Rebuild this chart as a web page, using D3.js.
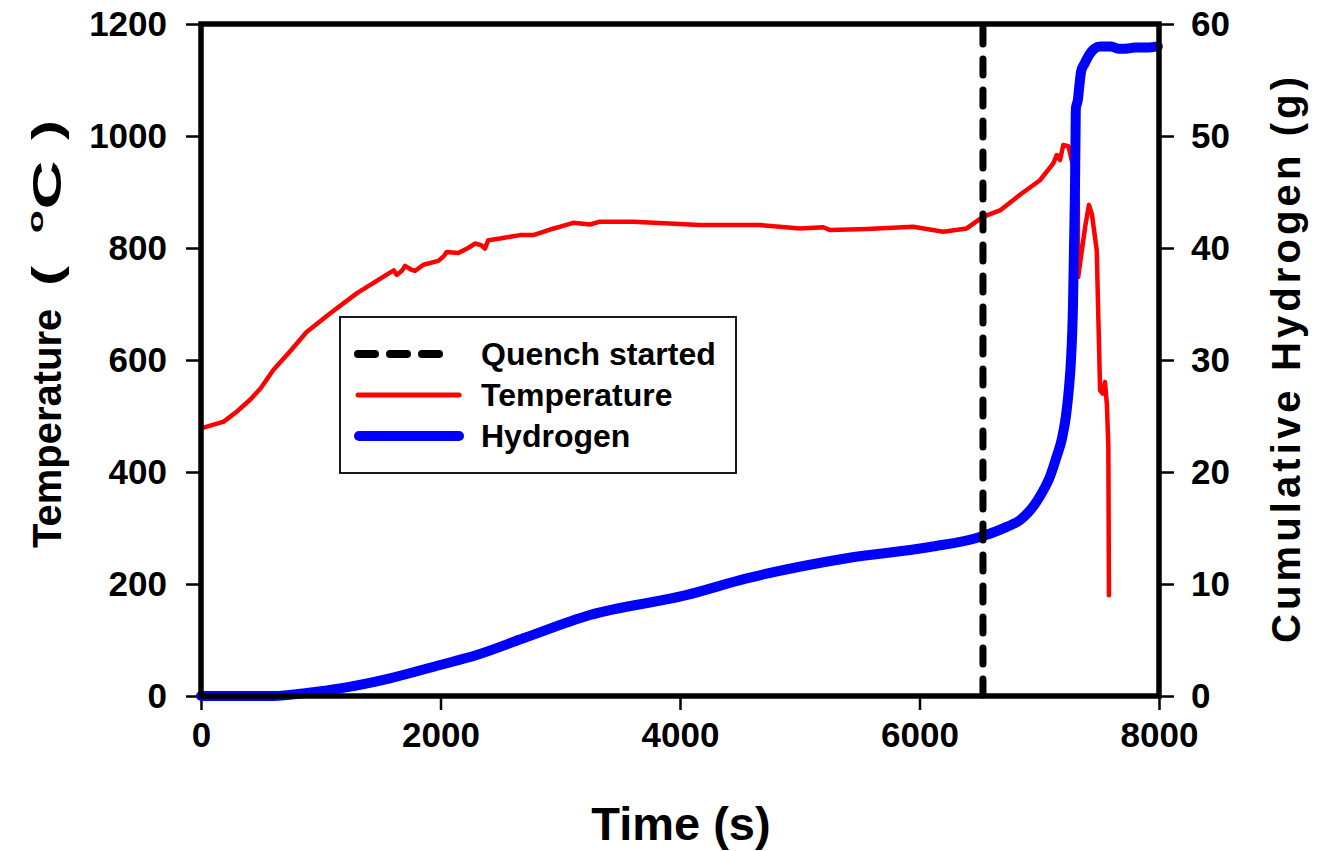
<!DOCTYPE html>
<html>
<head>
<meta charset="utf-8">
<script src="https://cdn.jsdelivr.net/npm/d3@7"></script>
<style>
  html, body { margin: 0; padding: 0; background: #fff; }
  svg { display: block; font-family: "Liberation Sans", Arial, sans-serif; font-weight: bold; }
</style>
</head>
<body>
<svg id="chart" width="1317" height="851"></svg>
<script>
// ---- data ----
const tempTime = [0,190,300,410,500,604,750,882,1077,1300,1578,1610,1634,1680,1704,1750,1787,1857,1982,2030,2052,2149,2230,2288,2340,2372,2399,2497,2664,2775,2914,3000,3109,3248,3332,3610,4167,4668,5002,5197,5253,5559,5948,6199,6394,6533,6672,6839,7006,7117,7146,7173,7201,7243,7300,7322,7325,7354,7385,7415,7440,7480,7508,7530,7549,7565,7577,7582];
const tempValue = [478,490,508,529,550,582,617,650,683,719,756,760,752,760,768,762,759,770,777,786,793,791,800,808,805,799,814,817,823,823,833,838,845,842,847,847,841,841,835,837,832,834,838,829,835,856,867,895,921,951,966,957,984,982,930,886,748,793,840,877,860,796,546,540,561,520,445,180];

const h2Time = [0,600,900,1161,1578,1996,2302,2692,3248,4050,4557,5392,6088,6505,6728,6839,7015,7090,7146,7190,7223,7248,7265,7282,7290,7298,7302,7306,7322,7335,7350,7380,7420,7460,7510,7600,7660,7720,7800,7900,7990];
const h2Value = [0,0,0.3,0.68,1.58,2.77,3.66,5.15,7.23,9.0,10.5,12.3,13.3,14.2,15.1,15.7,18.0,19.6,21.4,23.0,25.0,27.5,30.0,35.0,40.0,45.0,49.0,52.5,53.2,54.5,55.8,56.5,57.3,57.8,58.0,58.0,57.8,57.8,57.9,57.9,58.0];

const quenchTime = [6530];

const xTicks = [0,2000,4000,6000,8000];
const yLeftTicks = [0,200,400,600,800,1000,1200];
const yRightTicks = [0,10,20,30,40,50,60];

const legendLabels = ["Quench started","Temperature","Hydrogen"];

// ---- layout ----
const svg = d3.select("#chart");
const L = 201, R = 1159, T = 24, B = 696;

const x = d3.scaleLinear().domain([0,8000]).range([L,R]);
const yL = d3.scaleLinear().domain([0,1200]).range([B,T]);
const yR = d3.scaleLinear().domain([0,60]).range([B,T]);

svg.append("rect").attr("width",1317).attr("height",851).attr("fill","#fff");

// axes
const tickFont = 35;
const xAxis = d3.axisBottom(x).tickValues(xTicks).tickSize(14).tickPadding(12).tickFormat(d3.format("d"));
const gX = svg.append("g").attr("transform",`translate(0,${B})`).call(xAxis);
const yAxisL = d3.axisLeft(yL).tickValues(yLeftTicks).tickSize(15).tickPadding(19).tickFormat(d3.format("d"));
const gYL = svg.append("g").attr("transform",`translate(${L},0)`).call(yAxisL);
const yAxisR = d3.axisRight(yR).tickValues(yRightTicks).tickSize(15).tickPadding(17).tickFormat(d3.format("d"));
const gYR = svg.append("g").attr("transform",`translate(${R},0)`).call(yAxisR);

[gX,gYL,gYR].forEach(g => {
  g.select(".domain").remove();
  g.selectAll(".tick line").attr("stroke","#000").attr("stroke-width",2.5);
  g.selectAll(".tick text").attr("fill","#000")
    .style("font-size",tickFont+"px").style("font-weight","bold")
    .style("font-family",'"Liberation Sans", Arial, sans-serif');
});
gX.selectAll(".tick text").attr("dy","0.71em");

// line generators
const tempLine = d3.line().x(d => x(d[0])).y(d => yL(d[1]));
const h2Line = d3.line().curve(d3.curveMonotoneX).x(d => x(d[0])).y(d => yR(d[1]));

const tempData = tempTime.map((t,i) => [t, tempValue[i]]);
const h2Data = h2Time.map((t,i) => [t, h2Value[i]]);

svg.append("path").datum(tempData).attr("d",tempLine)
  .attr("fill","none").attr("stroke","#ff0000").attr("stroke-width",4.5)
  .attr("stroke-linejoin","round").attr("stroke-linecap","round");

svg.append("path").datum(h2Data).attr("d",h2Line)
  .attr("fill","none").attr("stroke","#0000ff").attr("stroke-width",10)
  .attr("stroke-linejoin","round").attr("stroke-linecap","round");

// quench line
svg.selectAll(".quench").data(quenchTime).enter().append("line")
  .attr("x1",d => x(d)).attr("x2",d => x(d))
  .attr("y1",yL(1200)+4).attr("y2",yL(0))
  .attr("stroke","#000").attr("stroke-width",7)
  .attr("stroke-dasharray","16,15").attr("stroke-linecap","round");

// frame
svg.append("rect").attr("x",L).attr("y",T).attr("width",R-L).attr("height",B-T)
  .attr("fill","none").attr("stroke","#000").attr("stroke-width",5.5);

// legend
const lg = svg.append("g");
lg.append("rect").attr("x",340).attr("y",317).attr("width",396).attr("height",156)
  .attr("fill","#fff").attr("stroke","#000").attr("stroke-width",1.8);
const rowY = [354,395,436];
lg.append("line").attr("x1",358).attr("x2",444).attr("y1",rowY[0]).attr("y2",rowY[0])
  .attr("stroke","#000").attr("stroke-width",8).attr("stroke-dasharray","17,15").attr("stroke-linecap","round");
lg.append("line").attr("x1",358).attr("x2",459).attr("y1",rowY[1]).attr("y2",rowY[1])
  .attr("stroke","#ff0000").attr("stroke-width",5).attr("stroke-linecap","round");
lg.append("line").attr("x1",359).attr("x2",459).attr("y1",rowY[2]).attr("y2",rowY[2])
  .attr("stroke","#0000ff").attr("stroke-width",10).attr("stroke-linecap","round");
lg.selectAll(".lt").data(legendLabels).enter().append("text")
  .attr("x",481).attr("y",(d,i) => rowY[i] + 11)
  .style("font-size","32px").attr("fill","#000").text(d => d);

// axis titles
svg.append("text").attr("x",681).attr("y",840).attr("text-anchor","middle")
  .style("font-size","47px").attr("fill","#000").text("Time (s)");

const lt = svg.append("g").attr("transform","translate(61,548) rotate(-90)")
  .style("font-size","40px").attr("fill","#000");
lt.append("text").attr("x",0).attr("y",0).text("Temperature");
lt.append("text").attr("transform","translate(262,0) scale(1.5,1)").text("(");
lt.append("text").attr("transform","translate(315,-18) scale(1.7,1)").style("font-size","22px").text("o");
lt.append("text").attr("transform","translate(338.5,0) scale(1.7,1)").text("C");
lt.append("text").attr("transform","translate(408,0) scale(1.5,1)").text(")");

svg.append("text").attr("transform","translate(1300,643) rotate(-90)")
  .attr("textLength",566).attr("lengthAdjust","spacing")
  .style("font-size","40px").attr("fill","#000").text("Cumulative Hydrogen (g)");
</script>
</body>
</html>
